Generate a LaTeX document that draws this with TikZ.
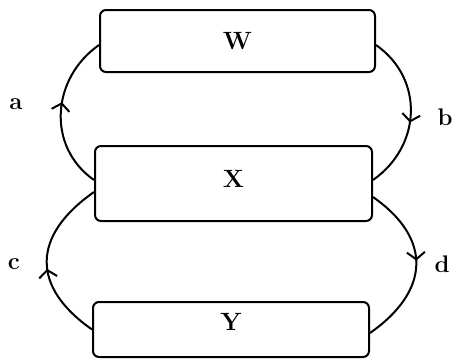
\documentclass[tikz,border=0pt]{standalone}
\usetikzlibrary{arrows.meta,decorations.markings}

\begin{document}
\begin{tikzpicture}[x=1pt,y=-1pt,
    box/.style={draw, line width=2pt, rounded corners=6pt, inner sep=0pt, font=\fontsize{25}{27}\selectfont\bfseries},
    lab/.style={font=\fontsize{24}{26}\selectfont\bfseries},
    flow/.style={line width=2pt, postaction={decorate},
      decoration={markings, mark=at position #1 with {\arrow{Straight Barb[length=7pt,width=18pt,line width=2pt]}}}}]
    \useasboundingbox (0,0) rectangle (453,360);
    \node[box, minimum width=275pt, minimum height=62pt] (wbox) at (237.5,41) {\raisebox{-8pt}{W}};
    \node[box, minimum width=277pt, minimum height=75pt] (xbox) at (233.5,183.5) {\raisebox{9pt}{X}};
    \node[box, minimum width=276pt, minimum height=55pt] (ybox) at (231,329.5) {\raisebox{16pt}{Y}};
    \node[lab] (la) at (16,104) {a};
    \node[lab] (lb) at (445,117) {b};
    \node[lab] (lc) at (14,264) {c};
    \node[lab] (ld) at (442,264) {d};
    \draw[flow=0.56] ([yshift=3.5pt]xbox.west) to[out=145,in=215,looseness=1.1] ([yshift=-4pt]wbox.west);
    \draw[flow=0.56] ([yshift=-4pt]wbox.east) to[out=-35,in=35,looseness=1.12] ([yshift=3.5pt]xbox.east);
    \draw[flow=0.45] (ybox.west) to[out=145,in=215,looseness=1.4] ([yshift=-8.5pt]xbox.west);
    \draw[flow=0.47] ([yshift=-13.5pt]xbox.east) to[out=-35,in=35,looseness=1.37] ([yshift=-3.5pt]ybox.east);
\end{tikzpicture}
\end{document}
